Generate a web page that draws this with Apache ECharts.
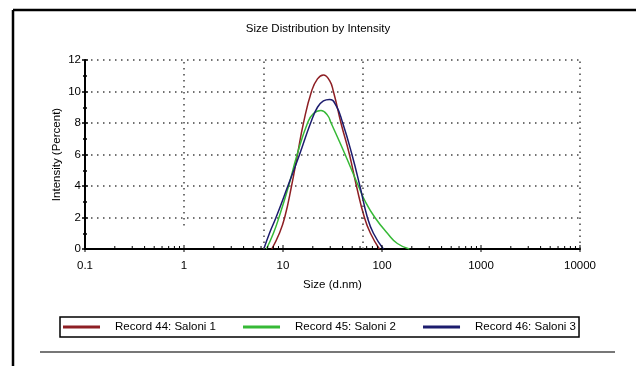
<!DOCTYPE html>
<html>
<head>
<meta charset="utf-8">
<script src="https://cdn.jsdelivr.net/npm/echarts@6/dist/echarts.min.js"></script>
<style>
html,body{margin:0;padding:0;background:#fff;}
#chart{width:636px;height:366px;}
</style>
</head>
<body>
<div id="chart"></div>
<script>
// 粒径 (d.nm) / 强度 (%)
var sizes44  = [7.7, 9.2, 10.4, 12.2, 14.0, 16.1, 19.4, 22.3, 25.6, 29.5, 32.3, 38.5, 46.9, 55.2, 66.4, 76.4, 94.1];
var values44 = [0,   1,   2,    4,    6,    8,    10,   10.8, 11.05, 10.7, 10,  8,    6,    4,    2,    1,    0];

var sizes45  = [6.8, 8.0, 9.1, 11.4, 13.9, 17.7, 20.3, 24.2, 28.1, 30.6, 42.4, 57.8, 68.0, 84.8, 113.4, 143.0, 189.0];
var values45 = [0,   1,   2,   4,    6,    8,    8.6,  8.8,  8.5,  8,    6,    4,    3,    2,    1,     0.35,  0];

var sizes46  = [6.4, 7.3, 8.5, 11.2, 14.7, 19.0, 22.3, 25.6, 29.5, 34.4, 40.1, 49.7, 59.8, 71.2, 81.9, 103.3];
var values46 = [0,   1,   2,   4,    6,    8,    9,    9.4,  9.5,  9.1,  8,    6,    4,    2,    1,    0];

var seriesNames = ['Record 44: Saloni 1', 'Record 45: Saloni 2', 'Record 46: Saloni 3'];
var seriesColors = ['#8e1f24', '#36b936', '#1c1c6e'];

var xTicks = [0.1, 1, 10, 100, 1000, 10000];
var gridX = [6.36, 63.4, 10000];   // 竖向点线位置

// 对数轴次刻度 2..9
var minorX = [];
[0.1, 1, 10, 100, 1000].forEach(function (d) {
    for (var k = 2; k <= 9; k++) minorX.push(+(d * k).toPrecision(4));
});

function pairs(xs, ys) {
    return xs.map(function (x, i) { return [x, ys[i]]; });
}

var FONT = '"Liberation Sans", Arial, sans-serif';
var FS = 11.5;
var dotted = { color: '#444', width: 1.5, type: [1.5, 4.5] };

var myChart = echarts.init(document.getElementById('chart'));

function tickSeries(values, up, down) {
    return {
        type: 'custom',
        silent: true,
        z: 5,
        data: values.map(function (v) { return [v, 0]; }),
        encode: { x: 0, y: 1 },
        renderItem: function (params, api) {
            var p = api.coord([api.value(0), 0]);
            return {
                type: 'line',
                shape: { x1: p[0], y1: p[1] + down, x2: p[0], y2: p[1] - up },
                style: { stroke: '#000', lineWidth: 1 }
            };
        }
    };
}

function lineSeries(i, data) {
    return {
        name: seriesNames[i],
        type: 'line',
        data: data,
        smooth: 0.5,
        showSymbol: false,
        symbol: 'none',
        z: 3,
        lineStyle: { color: seriesColors[i], width: 1.5 },
        itemStyle: { color: seriesColors[i] }
    };
}

var s44 = lineSeries(0, pairs(sizes44, values44));
s44.markLine = {
    silent: true,
    symbol: ['none', 'none'],
    label: { show: false },
    lineStyle: dotted,
    animation: false,
    data: gridX.map(function (x) { return { xAxis: x }; }).concat([
        [{ coord: [1, 1.5] }, { coord: [1, 12] }]
    ])
};

var option = {
    animation: false,
    backgroundColor: '#fff',
    title: {
        text: 'Size Distribution by Intensity',
        left: 'center',
        top: 18,
        textStyle: { fontFamily: FONT, fontSize: FS, fontWeight: 'normal', color: '#000' }
    },
    legend: {
        left: 60,
        top: 317,
        data: seriesNames,
        icon: 'rect',
        itemWidth: 37,
        itemHeight: 3,
        itemGap: 27,
        padding: [4, 3, 4, 3],
        borderColor: '#000',
        borderWidth: 1.5,
        textStyle: { fontFamily: FONT, fontSize: FS, color: '#000', padding: [0, 0, 0, 10] }
    },
    grid: { left: 85, right: 56, top: 60, bottom: 117 },
    xAxis: {
        type: 'log',
        logBase: 10,
        min: 0.1,
        max: 10000,
        name: 'Size (d.nm)',
        nameLocation: 'middle',
        nameGap: 30,
        nameTextStyle: { fontFamily: FONT, fontSize: FS, color: '#000' },
        axisLine: { lineStyle: { color: '#000', width: 2 } },
        axisTick: { show: false },
        splitLine: { show: false },
        axisLabel: {
            fontFamily: FONT, fontSize: FS, color: '#000', margin: 11,
            formatter: function (v) { return String(+v.toPrecision(6)); }
        }
    },
    yAxis: [{
        type: 'value',
        min: 0,
        max: 12,
        interval: 2,
        position: 'left',
        name: 'Intensity (Percent)',
        nameLocation: 'middle',
        nameGap: 22,
        nameMoveOverlap: false,
        nameTextStyle: { fontFamily: FONT, fontSize: FS, color: '#000' },
        axisLine: { show: true, lineStyle: { color: '#000', width: 2 } },
        axisTick: { show: true, inside: false, length: 3, lineStyle: { color: '#000', width: 1.5 } },
        minorTick: { show: true, splitNumber: 2, length: 2, lineStyle: { color: '#000', width: 1.5 } },
        splitLine: { show: true, lineStyle: dotted },
        axisLabel: { fontFamily: FONT, fontSize: FS, color: '#000', margin: 4 }
    }, {
        type: 'value',
        min: 0,
        max: 12,
        interval: 2,
        position: 'left',
        axisLine: { show: false },
        axisTick: { show: true, inside: true, length: 3, lineStyle: { color: '#000', width: 1.5 } },
        minorTick: { show: true, splitNumber: 2, length: 2, lineStyle: { color: '#000', width: 1.5 } },
        splitLine: { show: false },
        axisLabel: { show: false }
    }],
    series: [
        s44,
        lineSeries(1, pairs(sizes45, values45)),
        lineSeries(2, pairs(sizes46, values46)),
        tickSeries(xTicks, 4, 3),
        tickSeries(minorX, 3, 0)
    ],
    graphic: [
        { type: 'line', shape: { x1: 13, y1: 10, x2: 636, y2: 10 }, style: { stroke: '#000', lineWidth: 2.5 } },
        { type: 'line', shape: { x1: 13, y1: 10, x2: 13, y2: 366 }, style: { stroke: '#000', lineWidth: 2.5 } },
        { type: 'line', shape: { x1: 40, y1: 352, x2: 615, y2: 352 }, style: { stroke: '#777', lineWidth: 2 } }
    ]
};

myChart.setOption(option);
</script>
</body>
</html>
